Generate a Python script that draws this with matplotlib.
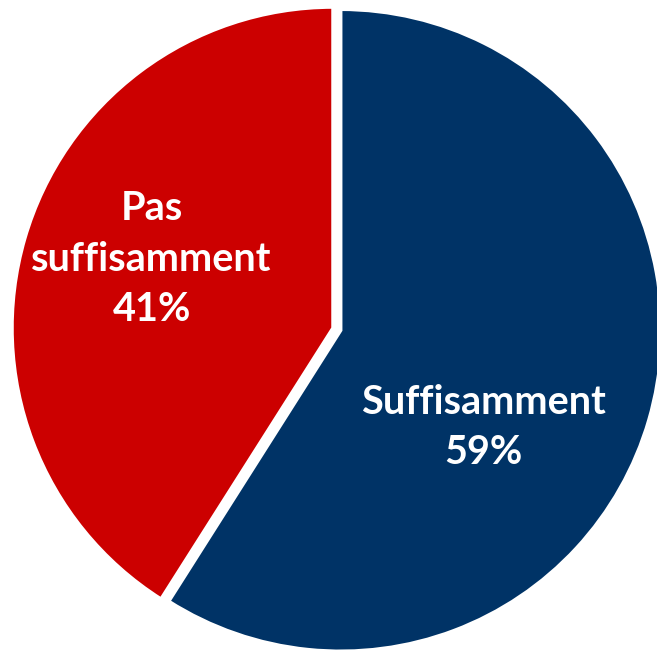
import matplotlib.pyplot as plt

labels = ['Suffisamment', 'Pas\nsuffisamment']
values = [59, 41]
colors = ['#003366', '#CC0000']
explode = [0.025, 0.0]

fig = plt.figure(figsize=(6.57, 6.5), dpi=100)
ax = fig.add_axes([0, 0, 1, 1])
ax.pie(values, colors=colors, explode=explode, startangle=90, counterclock=False,
       wedgeprops=dict(edgecolor='white', linewidth=2.5))

# label positions (data units, pie radius = 1)
label_pos = [(0.47, -0.31), (-0.565, 0.215)]
for lbl, v, (x, y) in zip(labels, values, label_pos):
    ax.text(x, y, f'{lbl}\n{v}%', ha='center', va='center', color='white',
            fontsize=28.5, fontweight='bold', family=['Lato', 'DejaVu Sans'],
            linespacing=1.45)

ax.set_xlim(-1.037, 1.009)
ax.set_ylim(-1.003, 1.022)
ax.set_aspect('equal')
ax.axis('off')
fig.savefig('out.png', dpi=100)
